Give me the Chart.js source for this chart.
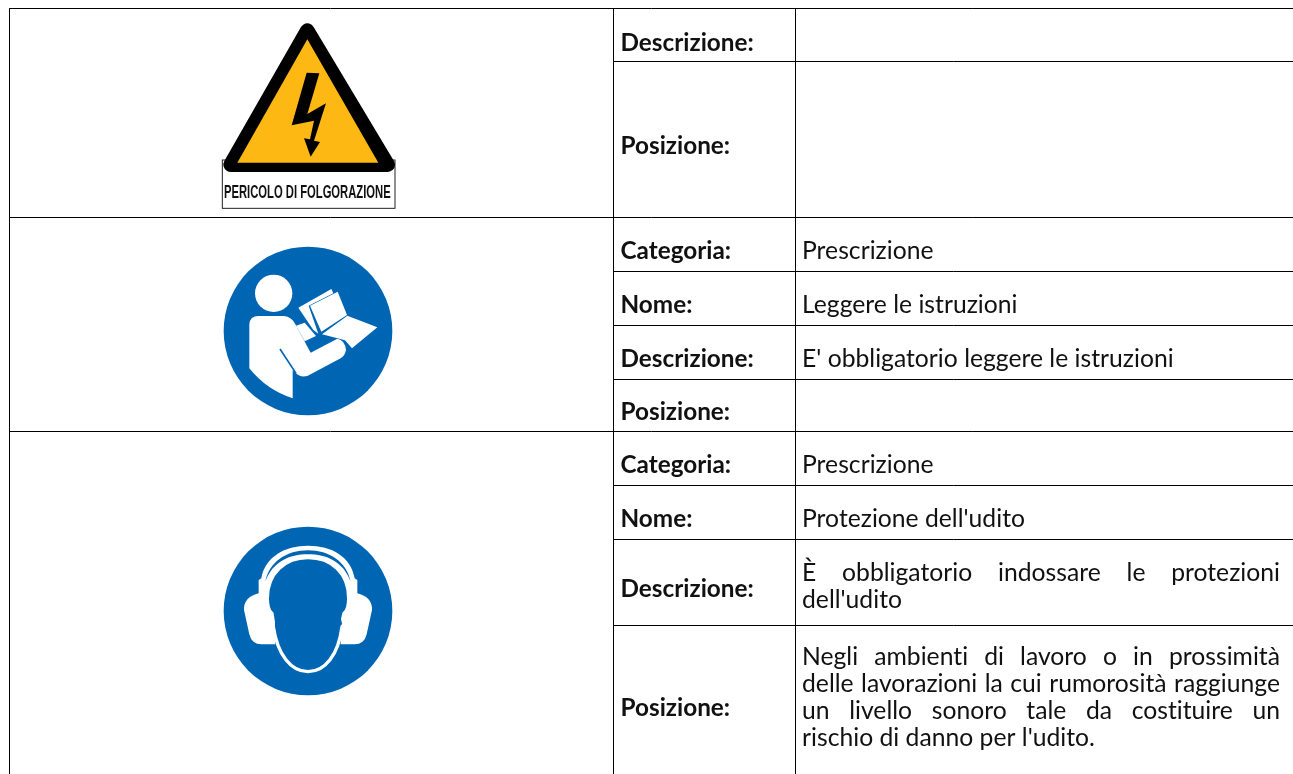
<!DOCTYPE html>
<html>
<head>
<meta charset="utf-8">
<style>
    html, body { margin: 0; padding: 0; background: #fff; overflow: hidden; }
    canvas { display: block; }
</style>
<script src="https://cdn.jsdelivr.net/npm/chart.js@4"></script>
</head>
<body>
<canvas id="signTable" width="1293" height="774"></canvas>
<script>
/* =========================
    Table content
========================= */
const rowLabels = ['Descrizione:', 'Posizione:', 'Categoria:', 'Nome:', 'Descrizione:', 'Posizione:', 'Categoria:', 'Nome:', 'Descrizione:', 'Posizione:'];
const rowValues = [
    [],
    [],
    ['Prescrizione'],
    ['Leggere le istruzioni'],
    ["E' obbligatorio leggere le istruzioni"],
    [],
    ['Prescrizione'],
    ["Protezione dell'udito"],
    ['È obbligatorio indossare le protezioni', "dell'udito"],
    ['Negli ambienti di lavoro o in prossimità', 'delle lavorazioni la cui rumorosità raggiunge', 'un livello sonoro tale da costituire un', "rischio di danno per l'udito."]
];
const rowHeights = [53, 156, 54, 54, 54, 52, 54, 54, 86, 152];
const rowsPerSign = [2, 4, 4];
const signNames = ['folgorazione', 'istruzioni', 'udito'];

/* =========================
    Layout (pixels, same as the scales)
========================= */
const TABLE_TOP = 8.5;
const COL_LEFT = 9.5, COL_LABEL = 613.5, COL_VALUE = 795.5, COL_END = 1293;
const TEXT_RIGHT = 1280;
const LINE_STEP = 27.3;
const LABEL_FONT_SIZE = 24.3;
const VALUE_FONT_SIZE = 24.7;
const LABEL_BASELINE = [16, 14, 14, 14, 14, 14, 14, 14, 14, 14];
const VALUE_BASELINE = [14, 14, 14, 14, 14, 14, 14, 14, 12, 4];
const FONT = 'Lato, "Noto Sans", sans-serif';
const BLUE = '#0066b3';

const rowEdges = [TABLE_TOP];
rowHeights.forEach(h => rowEdges.push(rowEdges[rowEdges.length - 1] + h));

/* =========================
    Table rules as one line dataset, broken with nulls
========================= */
function buildRules() {
    const pts = [];
    const seg = (x1, y1, x2, y2) => pts.push({ x: x1, y: y1 }, { x: x2, y: y2 }, { x: x2, y: null });
    const signEnds = [];
    let n = 0;
    rowsPerSign.forEach(c => { n += c; signEnds.push(n); });

    rowEdges.slice(0, -1).forEach((y, i) => {
        const full = i === 0 || signEnds.includes(i);
        seg(full ? COL_LEFT : COL_LABEL, y, COL_END, y);
    });
    [COL_LEFT, COL_LABEL, COL_VALUE].forEach(x => seg(x, TABLE_TOP, x, 774));
    return pts;
}

/* =========================
    Icons: painted once, then used as point styles
    (coords come from a 3x crop, hence the scale)
========================= */
function makeIcon(w, h, paint) {
    const c = document.createElement('canvas');
    c.width = w;
    c.height = h;
    const ctx = c.getContext('2d');
    ctx.scale(1 / 3, 1 / 3);
    paint(ctx);
    return c;
}

function poly(ctx, list, fill) {
    ctx.beginPath();
    list.forEach((p, i) => i ? ctx.lineTo(p[0], p[1]) : ctx.moveTo(p[0], p[1]));
    ctx.closePath();
    ctx.fillStyle = fill;
    ctx.fill();
}

function paintWarning(ctx) {
    // white plate under the triangle
    ctx.fillStyle = '#fff';
    ctx.strokeStyle = '#222';
    ctx.lineWidth = 3;
    ctx.fillRect(67, 450, 518, 145);
    ctx.strokeRect(67, 450, 518, 145);

    // black triangle with round corners
    ctx.lineJoin = 'round';
    ctx.beginPath();
    ctx.moveTo(322, 62);
    ctx.lineTo(92, 464);
    ctx.lineTo(563, 464);
    ctx.closePath();
    ctx.strokeStyle = '#000';
    ctx.lineWidth = 44;
    ctx.stroke();
    ctx.fillStyle = '#000';
    ctx.fill();
    poly(ctx, [[322, 88], [112, 458], [535, 458]], '#fdb813');

    poly(ctx, [[320, 188], [358, 190], [322, 312], [378, 280], [342, 392], [360, 396], [332, 440], [312, 385], [330, 388], [342, 332], [275, 346]], '#000');

    // the plate text is stretched tall in the original scan
    ctx.save();
    ctx.font = 'bold 38px "Liberation Sans Narrow", "Liberation Sans", sans-serif';
    ctx.fillStyle = '#111';
    ctx.textBaseline = 'alphabetic';
    const label = 'PERICOLO DI FOLGORAZIONE';
    const w = ctx.measureText(label).width;
    ctx.translate(72, 564);
    ctx.scale(500 / w, 1.45);
    ctx.fillText(label, 0, 0);
    ctx.restore();
}

function paintBook(ctx) {
    ctx.fillStyle = BLUE;
    ctx.beginPath();
    ctx.arc(294, 288, 253, 0, Math.PI * 2);
    ctx.fill();

    ctx.fillStyle = '#fff';
    ctx.beginPath();
    ctx.arc(191, 175, 56, 0, Math.PI * 2);
    ctx.fill();

    // torso and arm
    ctx.beginPath();
    ctx.moveTo(118, 268);
    ctx.quadraticCurveTo(120, 243, 145, 243);
    ctx.lineTo(222, 243);
    ctx.quadraticCurveTo(245, 245, 256, 268);
    ctx.lineTo(302, 353);
    ctx.lineTo(382, 311);
    ctx.quadraticCurveTo(405, 315, 408, 345);
    ctx.quadraticCurveTo(405, 362, 392, 370);
    ctx.lineTo(292, 423);
    ctx.quadraticCurveTo(270, 428, 258, 415);
    ctx.lineTo(248, 405);
    ctx.lineTo(248, 490);
    ctx.quadraticCurveTo(170, 465, 118, 400);
    ctx.closePath();
    ctx.fill();

    ctx.strokeStyle = BLUE;
    ctx.lineWidth = 5;
    ctx.beginPath();
    ctx.moveTo(210, 342);
    ctx.lineTo(258, 415);
    ctx.stroke();

    // book
    poly(ctx, [[258, 272], [284, 263], [318, 303], [284, 319]], '#fff');
    poly(ctx, [[412, 242], [502, 277], [426, 340], [405, 316], [368, 306], [336, 298]], '#fff');
    poly(ctx, [[265, 218], [364, 162], [370, 175], [296, 212], [325, 296], [310, 285]], '#fff');
    poly(ctx, [[300, 212], [383, 170], [411, 240], [334, 290]], '#fff');
}

function paintEars(ctx) {
    ctx.fillStyle = BLUE;
    ctx.beginPath();
    ctx.arc(294, 288, 253, 0, Math.PI * 2);
    ctx.fill();

    // outer headband
    ctx.beginPath();
    ctx.moveTo(146, 240);
    ctx.lineTo(146, 195);
    ctx.lineTo(154, 190);
    ctx.bezierCurveTo(165, 125, 225, 92, 294, 92);
    ctx.bezierCurveTo(365, 92, 423, 125, 434, 190);
    ctx.lineTo(442, 195);
    ctx.lineTo(442, 240);
    ctx.closePath();
    ctx.fillStyle = '#fff';
    ctx.fill();

    ctx.beginPath();
    ctx.moveTo(166, 200);
    ctx.bezierCurveTo(178, 140, 230, 106, 294, 106);
    ctx.bezierCurveTo(358, 106, 410, 140, 422, 200);
    ctx.bezierCurveTo(400, 140, 350, 118, 294, 118);
    ctx.bezierCurveTo(238, 118, 188, 140, 166, 200);
    ctx.closePath();
    ctx.fillStyle = BLUE;
    ctx.fill();

    // ear cups
    ctx.fillStyle = '#fff';
    [0, 1].forEach(side => {
        ctx.save();
        if (side) { ctx.translate(588, 0); ctx.scale(-1, 1); }
        ctx.beginPath();
        ctx.moveTo(150, 234);
        ctx.quadraticCurveTo(100, 245, 102, 285);
        ctx.lineTo(118, 358);
        ctx.quadraticCurveTo(125, 388, 155, 388);
        ctx.lineTo(196, 388);
        ctx.lineTo(196, 240);
        ctx.closePath();
        ctx.fill();
        ctx.restore();
    });

    // face
    ctx.beginPath();
    ctx.moveTo(172, 250);
    ctx.bezierCurveTo(172, 175, 225, 128, 294, 128);
    ctx.bezierCurveTo(365, 128, 416, 175, 416, 250);
    ctx.bezierCurveTo(416, 270, 412, 288, 402, 295);
    ctx.lineTo(398, 312);
    ctx.lineTo(402, 328);
    ctx.lineTo(396, 335);
    ctx.bezierCurveTo(385, 420, 345, 470, 294, 470);
    ctx.bezierCurveTo(243, 470, 203, 420, 190, 335);
    ctx.lineTo(190, 322);
    ctx.lineTo(186, 296);
    ctx.bezierCurveTo(176, 288, 172, 270, 172, 250);
    ctx.closePath();
    ctx.fillStyle = BLUE;
    ctx.fill();
    ctx.strokeStyle = '#fff';
    ctx.lineWidth = 10;
    ctx.stroke();
}

const iconImages = [
    makeIcon(220, 210, paintWarning),
    makeIcon(195, 190, paintBook),
    makeIcon(195, 190, paintEars)
];
// crop origin + half crop size, so each picture lands where it was cropped from
const iconPoints = [
    { x: 310, y: 115 },
    { x: 307.5, y: 330 },
    { x: 307.5, y: 610 }
];

/* =========================
    Text plugin, with justified lines in the value column
========================= */
function drawJustified(ctx, line, x, y, right) {
    const words = line.split(' ');
    const used = words.reduce((s, w) => s + ctx.measureText(w).width, 0);
    const gap = (right - x - used) / (words.length - 1);
    let cx = x;
    words.forEach(w => {
        ctx.fillText(w, cx, y);
        cx += ctx.measureText(w).width + gap;
    });
}

const tableText = {
    id: 'tableText',
    afterDatasetsDraw(chart) {
        const { ctx, scales: { x, y } } = chart;
        ctx.save();
        ctx.fillStyle = '#111';
        ctx.textBaseline = 'alphabetic';
        ctx.letterSpacing = '0.01px'; // keeps Lato from joining "ti"

        rowLabels.forEach((label, i) => {
            const mid = (rowEdges[i] + rowEdges[i + 1]) / 2;
            ctx.font = `bold ${LABEL_FONT_SIZE}px ${FONT}`;
            ctx.fillText(label, x.getPixelForValue(COL_LABEL + 7), y.getPixelForValue(mid + LABEL_BASELINE[i]));

            const lines = rowValues[i];
            ctx.font = `${VALUE_FONT_SIZE}px ${FONT}`;
            lines.forEach((line, k) => {
                const base = mid + VALUE_BASELINE[i] + (k - (lines.length - 1) / 2) * LINE_STEP;
                const left = x.getPixelForValue(COL_VALUE + 6.5);
                const py = y.getPixelForValue(base);
                if (k < lines.length - 1) drawJustified(ctx, line, left, py, x.getPixelForValue(TEXT_RIGHT));
                else ctx.fillText(line, left, py);
            });
        });
        ctx.restore();
    }
};

/* =========================
    Chart
========================= */
new Chart(document.getElementById('signTable'), {
    type: 'scatter',
    data: {
        datasets: [
            {
                label: 'Bordi',
                data: buildRules(),
                showLine: true,
                spanGaps: false,
                borderColor: '#000',
                borderWidth: 1,
                pointRadius: 0
            },
            {
                label: signNames.join(', '),
                data: iconPoints,
                showLine: false,
                pointStyle: iconImages,
                pointRadius: 1
            }
        ]
    },
    options: {
        responsive: false,
        animation: false,
        layout: { padding: 0, autoPadding: false },
        plugins: { legend: { display: false }, tooltip: { enabled: false } },
        scales: {
            x: { type: 'linear', min: 0, max: 1293, display: false },
            y: { type: 'linear', min: 0, max: 774, reverse: true, display: false }
        }
    },
    plugins: [tableText]
});
</script>
</body>
</html>
